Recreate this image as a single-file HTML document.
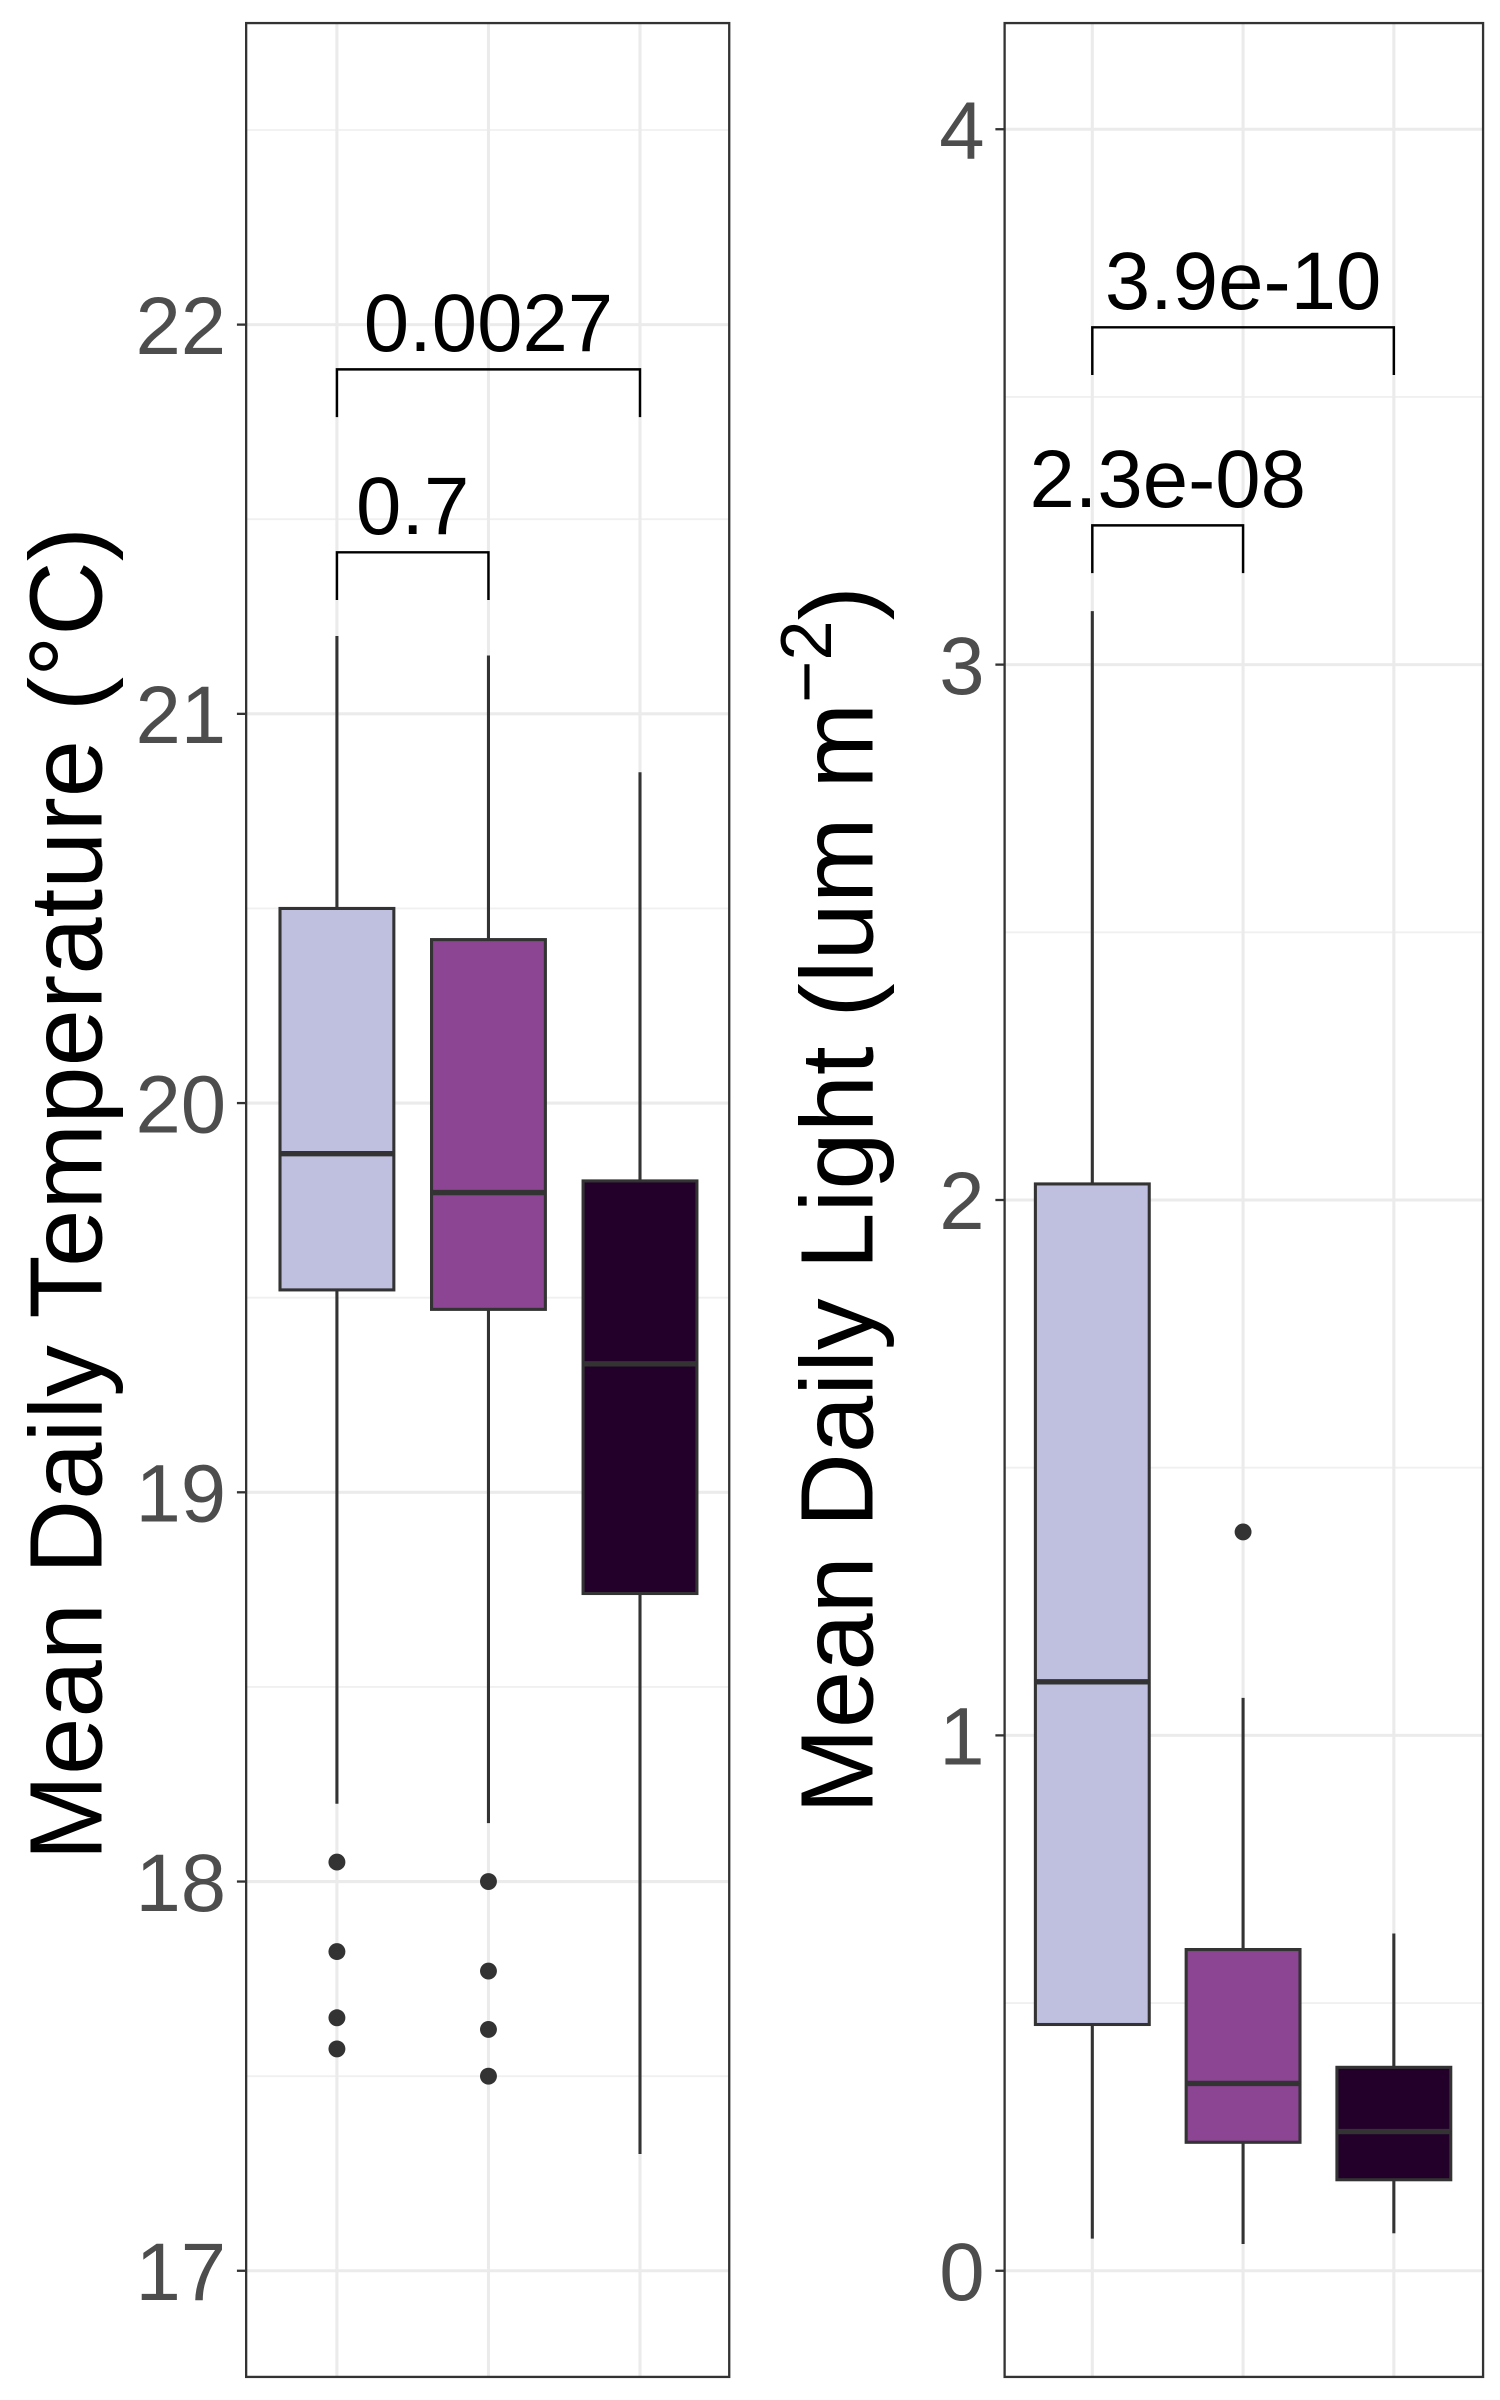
<!DOCTYPE html>
<html><head><meta charset="utf-8"><style>html,body{margin:0;padding:0;background:#fff}svg{display:block}</style></head>
<body>
<svg id="chart" width="1500" height="2400" viewBox="0 0 975 1560" xmlns="http://www.w3.org/2000/svg" font-family="Liberation Sans, Arial, sans-serif"></svg>
<script>
// Left panel data (temperature)
const tempQ1=[19.52,19.47,18.74];
const tempMed=[19.87,19.77,19.33];
const tempQ3=[20.5,20.42,19.8];
const tempLo=[18.2,18.15,17.3];
const tempHi=[21.2,21.15,20.85];
const tempOut=[[18.05,17.82,17.65,17.57],[18.0,17.77,17.62,17.5],[]];
const tempTicks=[17,18,19,20,21,22];
const tempAnn=[{a:0,b:2,y:21.885,label:"0.0027"},{a:0,b:1,y:21.415,label:"0.7"}];
// Right panel data (light)
const lightQ1=[0.46,0.24,0.17];
const lightMed=[1.1,0.35,0.26];
const lightQ3=[2.03,0.6,0.38];
const lightLo=[0.06,0.05,0.07];
const lightHi=[3.1,1.07,0.63];
const lightOut=[[],[1.38],[]];
const lightTicks=[0,1,2,3,4];
const lightAnn=[{a:0,b:2,y:3.63,label:"3.9e-10"},{a:0,b:1,y:3.26,label:"2.3e-08"}];
const fills=["#bfc0e0","#8b4593","#22002a"];

const NS="http://www.w3.org/2000/svg";
const svg=document.getElementById('chart');
function mk(tag,attrs,parent){const e=document.createElementNS(NS,tag);for(const k in attrs)e.setAttribute(k,attrs[k]);(parent||svg).appendChild(e);return e;}

function panel(o){
  const g=mk('g',{});
  
  
  const y=v=>o.y0px+(v-o.v0)*(o.y1px-o.y0px)/(o.v1-o.v0);
  const x=i=>o.xs[0]+i*(o.xs[1]-o.xs[0]);
  for(let i=0;i<o.ticks.length-1;i++){const v=(o.ticks[i]+o.ticks[i+1])/2;mk('line',{x1:o.L,x2:o.R,y1:y(v),y2:y(v),stroke:'#f0f0f0','stroke-width':1.2},g);}
  if(o.extraMinor!==undefined){mk('line',{x1:o.L,x2:o.R,y1:y(o.extraMinor),y2:y(o.extraMinor),stroke:'#f0f0f0','stroke-width':1.2},g);}
  o.ticks.forEach(t=>{
    const gl=mk('line',{x1:o.L,x2:o.R,y1:y(t),y2:y(t),stroke:'#ebebeb','stroke-width':2},g);
    
    
    mk('line',{x1:o.L-6,x2:o.L,y1:y(t),y2:y(t),stroke:'#333','stroke-width':1.5},g);
    const tx=mk('text',{x:o.L-13,y:y(t)+19,'text-anchor':'end','font-size':53,fill:'#4d4d4d'},g);
    tx.textContent=t;
    
    
  });
  for(let i=0;i<3;i++){mk('line',{x1:x(i),x2:x(i),y1:o.T,y2:o.B,stroke:'#ebebeb','stroke-width':2},g);}
  for(let i=0;i<3;i++){
    const bg=mk('g',{},g);
    
    
    mk('line',{x1:x(i),x2:x(i),y1:y(o.hi[i]),y2:y(o.q3[i]),stroke:'#333','stroke-width':2},bg);
    mk('line',{x1:x(i),x2:x(i),y1:y(o.q1[i]),y2:y(o.lo[i]),stroke:'#333','stroke-width':2},bg);
    const r=mk('rect',{x:x(i)-37,width:74,y:y(o.q3[i]),height:y(o.q1[i])-y(o.q3[i]),fill:fills[i],stroke:'#333','stroke-width':2},bg);
    
    
    mk('line',{x1:x(i)-37,x2:x(i)+37,y1:y(o.med[i]),y2:y(o.med[i]),stroke:'#333','stroke-width':3.5},bg);
    o.out[i].forEach(v=>{const c=mk('circle',{cx:x(i),cy:y(v),r:5.5,fill:'#333'},bg);
      
      });
  }
  o.ann.forEach(a=>{
    const yy=y(a.y);
    const p=mk('path',{d:`M${x(a.a)},${yy+31}V${yy}H${x(a.b)}V${yy+31}`,fill:'none',stroke:'#000','stroke-width':1.6},g);
    
    
    const t=mk('text',{x:(x(a.a)+x(a.b))/2,y:yy-12,'text-anchor':'middle','font-size':53,fill:'#000'},g);
    t.textContent=a.label;
    
    
  });
  mk('rect',{x:o.L,y:o.T,width:o.R-o.L,height:o.B-o.T,fill:'none',stroke:'#333','stroke-width':1.5},g);
  return g;
}
panel({name:'temperature-panel',L:160,R:474,T:15,B:1545,xs:[219,317.5],v0:22,v1:17,y0px:211,y1px:1476,
  ticks:tempTicks,extraMinor:22.5,q1:tempQ1,med:tempMed,q3:tempQ3,lo:tempLo,hi:tempHi,out:tempOut,ann:tempAnn});
panel({name:'light-panel',L:653,R:964,T:15,B:1545,xs:[710,808],v0:4,v1:0,y0px:84,y1px:1476,
  ticks:lightTicks,q1:lightQ1,med:lightMed,q3:lightQ3,lo:lightLo,hi:lightHi,out:lightOut,ann:lightAnn});

const t1=mk('text',{x:0,y:0,transform:'translate(66,776) rotate(-90)','text-anchor':'middle','font-size':67,fill:'#000'});
t1.textContent='Mean Daily Temperature (°C)';


const t2=mk('text',{x:0,y:0,transform:'translate(567,780) rotate(-90)','text-anchor':'middle','font-size':67,fill:'#000'});
t2.innerHTML='Mean Daily Light (lum m<tspan dy="-27" font-size="47">−2</tspan><tspan dy="27">)</tspan>';


</script>
</body></html>
